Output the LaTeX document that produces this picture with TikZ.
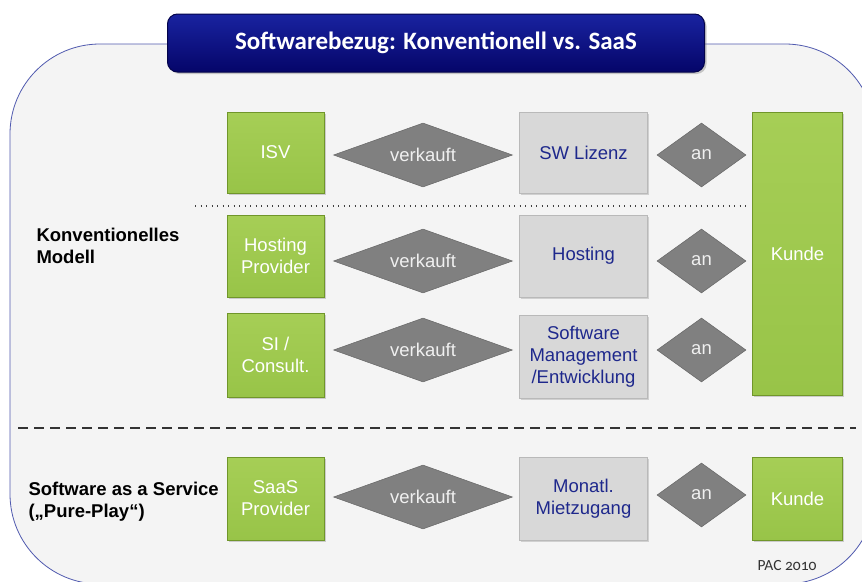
\documentclass[tikz,border=0pt]{standalone}
\usepackage{fontspec}
\setmainfont{Liberation Sans}
\newfontfamily\titlefont{Carlito}
\usetikzlibrary{shapes.geometric,shadows}
\definecolor{framefill}{RGB}{244,244,244}
\definecolor{frameline}{RGB}{80,90,175}
\definecolor{navytop}{RGB}{25,35,160}
\definecolor{navybot}{RGB}{5,5,105}
\definecolor{greenfill}{RGB}{152,196,72}
\definecolor{greentop}{RGB}{166,206,86}
\definecolor{greenline}{RGB}{112,150,42}
\definecolor{grayfill}{RGB}{216,216,216}
\definecolor{grayline}{RGB}{185,185,185}
\definecolor{diafill}{RGB}{128,128,128}
\definecolor{diatext}{RGB}{240,240,240}
\definecolor{bluetext}{RGB}{30,40,140}
\begin{document}
\begin{tikzpicture}[x=1pt,y=-1pt,
  greenbox/.style={draw=greenline,line width=1pt,top color=greentop,bottom color=greenfill,
     text=white,align=center,font=\fontsize{18.5}{22}\selectfont,inner sep=0pt,
     drop shadow={shadow xshift=1.5pt,shadow yshift=-1.5pt,opacity=0.35}},
  graybox/.style={draw=grayline,line width=0.8pt,fill=grayfill,text=bluetext,align=center,
     font=\fontsize{18.5}{22}\selectfont,inner sep=0pt,
     drop shadow={shadow xshift=1.5pt,shadow yshift=-1.5pt,opacity=0.3}},
  dia/.style={diamond,draw=diafill!80!black,line width=0.5pt,fill=diafill,text=diatext,
     inner sep=0pt,aspect=2.8,font=\fontsize{18.5}{22}\selectfont},
  sidelabel/.style={anchor=west,align=left,font=\bfseries\fontsize{18.5}{22}\selectfont,text=black},
]
\useasboundingbox (0,0) rectangle (862,581);
\clip (0,0) rectangle (862,581);
\fill[white] (0,0) rectangle (862,581);
% frame
\draw[frameline,fill=framefill,line width=0.8pt,rounded corners=90pt] (10,44) rectangle (875,584);
% title
\node[draw=navybot!70!black,line width=1pt,top color=navytop,bottom color=navybot,rounded corners=10pt,
  minimum width=537pt,minimum height=58pt,inner sep=0pt,text=white,
  font=\titlefont\bfseries\fontsize{25}{28}\selectfont,
  drop shadow={shadow xshift=2pt,shadow yshift=-2pt,opacity=0.4}] (title) at (436,43) {Softwarebezug: Konventionell vs. SaaS};
% separators
\coordinate (dotL) at (195,206);
\coordinate (dotR) at (746,206);
\draw[black!75,line width=1.3pt,dash pattern=on 1.3pt off 4.2pt] (dotL) -- (dotR);
\coordinate (dashL) at (18,428);
\coordinate (dashR) at (856,428);
\draw[black!80,line width=1.3pt,dash pattern=on 10pt off 6pt] (dashL) -- (dashR);
% left labels
\node[sidelabel] (konv) at (33,246) {Konventionelles\\Modell};
\node[sidelabel] (saas) at (25,502) {Software as a Service\\(„Pure-Play“)};
% row 1
\node[greenbox,minimum width=97pt,minimum height=81pt] (isv) at (275.5,152.5) {ISV};
\node[dia,minimum width=179pt,minimum height=64pt] (v1) at (423,155) {verkauft};
\node[graybox,minimum width=128pt,minimum height=81pt] (lic) at (583.5,152.5) {SW Lizenz};
\node[dia,minimum width=89pt,minimum height=64pt] (a1) at (701.5,155) {an};
\node[greenbox,minimum width=90pt,minimum height=283pt] (kunde) at (797.5,253.5) {Kunde};
% row 2
\node[greenbox,minimum width=97pt,minimum height=82pt] (host) at (275.5,256) {Hosting\\Provider};
\node[dia,minimum width=179pt,minimum height=64pt] (v2) at (423,261) {verkauft};
\node[graybox,minimum width=128pt,minimum height=82pt] (hosting) at (583.5,256) {Hosting};
\node[dia,minimum width=89pt,minimum height=64pt] (a2) at (701.5,261) {an};
% row 3
\node[greenbox,minimum width=97pt,minimum height=84pt] (si) at (275.5,355) {SI /\\Consult.};
\node[dia,minimum width=179pt,minimum height=64pt] (v3) at (423,350) {verkauft};
\node[graybox,minimum width=128pt,minimum height=83pt] (swm) at (583.5,356.5) {Software\\Management\\/Entwicklung};
\node[dia,minimum width=89pt,minimum height=64pt] (a3) at (701.5,350) {an};
% row 4
\node[greenbox,minimum width=97pt,minimum height=83pt] (saasp) at (275.5,498.5) {SaaS\\Provider};
\node[dia,minimum width=179pt,minimum height=64pt] (v4) at (423,497) {verkauft};
\node[graybox,minimum width=128pt,minimum height=83pt] (miet) at (583.5,498.5) {Monatl.\\Mietzugang};
\node[dia,minimum width=89pt,minimum height=64pt] (a4) at (701.5,495) {an};
\node[greenbox,minimum width=90pt,minimum height=83pt] (kunde2) at (797.5,498.5) {Kunde};
% source
\node[font=\titlefont\fontsize{15.5}{18}\selectfont\addfontfeatures{Numbers=OldStyle},text=black!80] (pac) at (787,566) {PAC 2010};
\end{tikzpicture}
\end{document}
